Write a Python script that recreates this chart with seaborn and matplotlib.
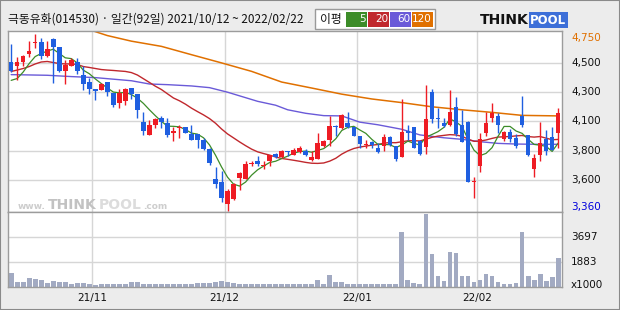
import numpy as np
import pandas as pd
import matplotlib
matplotlib.use("Agg")
import matplotlib.pyplot as plt
from matplotlib.patches import Rectangle
import seaborn as sns

# ---------------- data ----------------
title = "극동유화(014530) · 일간(92일) 2021/10/12 ~ 2022/02/22"
months = ["21/11", "21/12", "22/01", "22/02"]
month_start_idx = [14, 36, 58, 78]

opens = [4510, 4485, 4515, 4575, 4655, 4665, 4555, 4690, 4625, 4445, 4485, 4510, 4415, 4360, 4305,
         4300, 4360, 4275, 4195, 4210, 4310, 4265, 4050, 3955, 4025, 4085, 4040, 3970, 4005, 4010,
         3960, 3960, 3915, 3845, 3610, 3590, 3425, 3460, 3620, 3615, 3725, 3750, 3715, 3755, 3805,
         3780, 3825, 3800, 3820, 3825, 3760, 3770, 3865, 3915, 4020, 4005, 4040, 4010, 3940, 3875,
         3895, 3850, 3870, 3935, 3865, 3785, 3985, 4015, 3905, 3860, 4280, 4080, 4045, 4025, 4165,
         4025, 4050, 3590, 3715, 3965, 4080, 4100, 3920, 3975, 3930, 4100, 3950, 3690, 3800, 3920,
         3935, 3970]
highs = [4650, 4550, 4565, 4670, 4725, 4700, 4675, 4700, 4630, 4530, 4545, 4545, 4480, 4390, 4305,
         4350, 4360, 4275, 4305, 4310, 4315, 4265, 4130, 4070, 4085, 4095, 4085, 4010, 4030, 4015,
         4025, 3960, 3925, 3850, 3705, 3675, 3535, 3580, 3665, 3755, 3755, 3790, 3750, 3800, 3815,
         3835, 3830, 3850, 3865, 3840, 3825, 3965, 3910, 4095, 4030, 4110, 4125, 4015, 3940, 3915,
         3905, 3890, 3960, 3940, 3865, 4230, 4025, 4015, 3915, 4335, 4305, 4160, 4085, 4295, 4245,
         4145, 4055, 3630, 3965, 4130, 4195, 4120, 3980, 4000, 3960, 4250, 3950, 3805, 4050, 3990,
         4015, 4155]
lows = [4435, 4370, 4480, 4550, 4620, 4535, 4550, 4350, 4435, 4340, 4480, 4420, 4300, 4265, 4220,
        4295, 4250, 4165, 4155, 4185, 4230, 4085, 3955, 3950, 4005, 4005, 3935, 3905, 3930, 3965,
        3910, 3855, 3835, 3720, 3545, 3440, 3365, 3455, 3530, 3610, 3710, 3715, 3690, 3710, 3775,
        3775, 3790, 3795, 3815, 3790, 3755, 3765, 3860, 3870, 3940, 4000, 4005, 3940, 3855, 3855,
        3855, 3815, 3830, 3870, 3750, 3780, 3915, 3850, 3795, 3805, 4045, 4005, 4010, 4020, 3940,
        3900, 3590, 3465, 3665, 3945, 4050, 3965, 3905, 3895, 3850, 4010, 3790, 3625, 3750, 3795,
        3835, 3855]
closes = [4440, 4515, 4555, 4600, 4660, 4555, 4610, 4625, 4440, 4490, 4525, 4445, 4345, 4305, 4290,
          4345, 4280, 4185, 4275, 4305, 4265, 4140, 3985, 4030, 4075, 4050, 3955, 3980, 4010, 3970,
          3915, 3915, 3840, 3735, 3575, 3465, 3520, 3575, 3660, 3730, 3730, 3725, 3720, 3795, 3780,
          3830, 3820, 3835, 3855, 3800, 3785, 3890, 3905, 4020, 4010, 4105, 4010, 3945, 3880, 3880,
          3875, 3820, 3935, 3875, 3770, 3975, 3965, 3855, 3805, 4075, 4075, 4075, 4020, 4130, 3960,
          3900, 3590, 3595, 3920, 4045, 4120, 4025, 3975, 3920, 3870, 4030, 3800, 3775, 3890, 3825,
          3835, 4120]
volumes = [1060, 400, 400, 640, 570, 500, 330, 470, 400, 400, 250, 280, 320, 250, 120,
           200, 260, 260, 200, 260, 350, 400, 260, 230, 230, 200, 200, 250, 250, 250,
           260, 280, 300, 300, 400, 420, 400, 300, 260, 250, 240, 220, 200, 200, 200,
           200, 200, 210, 220, 250, 250, 520, 250, 890, 370, 390, 250, 200, 200, 200,
           200, 200, 200, 200, 200, 4090, 490, 320, 250, 5420, 2420, 840, 440, 2610, 2540,
           840, 840, 390, 540, 990, 840, 390, 250, 250, 320, 4090, 840, 540, 990, 440, 760, 2170]

# moving-average values before enough in-window history exists
ma5_head = [4371, 4385, 4435, 4500]
ma20_head = [4439, 4450, 4462, 4477, 4497, 4512, 4516, 4508, 4500, 4497, 4497, 4493, 4477,
             4470, 4462, 4454, 4450, 4447, 4443]
ma60_idx = [0, 6, 10, 14, 20, 23, 26, 30, 33, 36, 41, 44, 46, 49, 52, 55, 58, 61, 65, 68,
            72, 75, 78, 81, 84, 87, 91]
ma60_val = [4415, 4410, 4400, 4392, 4368, 4343, 4338, 4328, 4315, 4280, 4210, 4180, 4145, 4118,
            4100, 4098, 4050, 4030, 3995, 3952, 3930, 3918, 3900, 3887, 3882, 3880, 3880]
ma120_idx = [13, 16, 20, 25, 30, 35, 40, 45, 50, 55, 60, 65, 70, 75, 80, 85, 91]
ma120_val = [4760, 4715, 4672, 4632, 4568, 4505, 4440, 4358, 4312, 4265, 4228, 4200, 4168,
             4145, 4125, 4102, 4098]

price_max, price_min = 4750, 3360
price_grid = [3605, 3830, 4055, 4280, 4505]
price_grid_labels = ["3,600", "3,800", "4,100", "4,300", "4,500"]
vol_ticks = [3697, 1883]
vol_top = 5580

ma_names = ["5", "20", "60", "120"]
ma_colors = ["#3c8c28", "#c0282d", "#6a5ad8", "#e07000"]

# ---------------- build frame ----------------
df = pd.DataFrame({"i": np.arange(len(opens)), "open": opens, "high": highs,
                   "low": lows, "close": closes, "vol": volumes})
ma5 = df["close"].rolling(5).mean().to_numpy()
ma5[:len(ma5_head)] = ma5_head
ma20 = df["close"].rolling(20).mean().to_numpy()
ma20[:len(ma20_head)] = ma20_head

sns.set_style("white")
plt.rcParams["font.family"] = ["DejaVu Sans"]

W, H = 620, 310
fig = plt.figure(figsize=(W / 100, H / 100), dpi=100, facecolor="#ececec")


def fx(px):
    return px / W


def fy(py):
    return 1 - py / H


left_px, right_px = 7.5, 562
ax = fig.add_axes([fx(left_px), fy(212), fx(right_px - left_px), 181 / H])
axv = fig.add_axes([fx(left_px), fy(287), fx(right_px - left_px), 75 / H])

xlim = (-0.61, 91.64)
grid_c = "#d6d6d6"
for a in (ax, axv):
    a.set_facecolor("white")
    for s in a.spines.values():
        s.set_color("#9c9c9c")
        s.set_linewidth(1)
    a.set_xlim(*xlim)
    a.set_xticks([])
    a.set_yticks([])
    for m in month_start_idx:
        a.axvline(m - 0.5, color=grid_c, lw=1, zorder=0)

ax.set_ylim(price_min, price_max)
for g in price_grid:
    ax.axhline(g, color=grid_c, lw=1, zorder=0)
axv.set_ylim(0, vol_top)
for g in vol_ticks:
    axv.axhline(g, color=grid_c, lw=1, zorder=0)

# watermark
wm_c = "#cdcdcd"
fig.text(fx(18), fy(209), "www.", fontsize=6.5, color=wm_c, va="baseline", fontweight="bold")
fig.text(fx(48), fy(209), "THINK", fontsize=10, color="#c2c2c2", va="baseline", fontweight="bold")
fig.text(fx(98.5), fy(209), "POOL", fontsize=10, color="#dcdcdc", va="baseline", fontweight="bold")
fig.text(fx(143), fy(209), ".com", fontsize=6.5, color=wm_c, va="baseline", fontweight="bold")

# moving averages
sns.lineplot(x=ma120_idx, y=ma120_val, ax=ax, color=ma_colors[3], lw=1.1, zorder=2)
sns.lineplot(x=ma60_idx, y=ma60_val, ax=ax, color=ma_colors[2], lw=1.0, zorder=2)
sns.lineplot(x=df["i"], y=ma20, ax=ax, color=ma_colors[1], lw=1.0, zorder=2)
sns.lineplot(x=df["i"], y=ma5, ax=ax, color=ma_colors[0], lw=0.9, zorder=2)

# candles
up = df["close"] >= df["open"]
col = np.where(up, "#ee1c24", "#1f5fe0")
body_bot = np.minimum(df["open"], df["close"])
body_h = np.maximum(np.abs(df["close"] - df["open"]), 9)
ax.vlines(df["i"], df["low"], df["high"], colors=col, lw=1, zorder=3)
ax.bar(df["i"], body_h, bottom=body_bot, width=0.76, color=col, linewidth=0, zorder=4)
ax.set_xlim(*xlim)
ax.set_ylim(price_min, price_max)
ax.set_xlabel("")
ax.set_ylabel("")

# volume
sns.barplot(x=df["i"], y=df["vol"], ax=axv, native_scale=True, color="#a2aac2",
            saturation=1, errorbar=None, width=0.8, linewidth=0, zorder=2)
axv.set_xlim(*xlim)
axv.set_ylim(0, vol_top)
axv.set_xlabel("")
axv.set_ylabel("")
axv.set_xticks([])
axv.set_yticks([])

# right-hand labels
lab_x = fx(571)
fig.text(lab_x, fy(38), "4,750", fontsize=7.5, color="#e07000", va="center")
for g, lab in zip(price_grid, price_grid_labels):
    ypx = 212 - (g - price_min) / (price_max - price_min) * 181
    fig.text(lab_x, fy(ypx), lab, fontsize=7.5, color="#111111", va="center")
fig.text(lab_x, fy(207), "3,360", fontsize=7.5, color="#0000dd", va="center")
for v in vol_ticks:
    ypx = 287 - v / vol_top * 75
    fig.text(lab_x, fy(ypx), str(v), fontsize=7.5, color="#111111", va="center")
fig.text(lab_x, fy(285), "x1000", fontsize=7.5, color="#111111", va="center")

# month labels
for m, lab in zip(month_start_idx, months):
    xpx = left_px + (m - 0.5 - xlim[0]) / (xlim[1] - xlim[0]) * (right_px - left_px)
    fig.text(fx(xpx), fy(298), lab, fontsize=7.5, color="#111111", ha="center", va="center")

# title
fig.text(fx(8), fy(19), title, fontsize=8.5, color="#111111", va="center",
         family=["Noto Sans CJK KR", "DejaVu Sans"])

# legend box
fig.patches.append(Rectangle((fx(315), fy(29)), fx(120), 20 / H, transform=fig.transFigure,
                             facecolor="white", edgecolor="#9a9a9a", lw=1))
fig.text(fx(320), fy(19), "이평", fontsize=8.5, color="#111111", va="center",
         family=["Noto Sans CJK KR", "DejaVu Sans"])
box_x = [346, 368, 390, 412]
for bx, name, c in zip(box_x, ma_names, ma_colors):
    fig.patches.append(Rectangle((fx(bx), fy(26.5)), fx(21), 15 / H, transform=fig.transFigure,
                                 facecolor=c, edgecolor="none"))
    fig.text(fx(bx + 20), fy(19), name, fontsize=7.5, color="white", ha="right", va="center")

# logo
fig.text(fx(480), fy(20), "THINK", fontsize=10, fontweight="bold", color="#111111", va="center")
fig.text(fx(530), fy(20), "POOL", fontsize=8.5, fontweight="bold", color="white", va="center",
         bbox=dict(boxstyle="square,pad=0.12", facecolor="#3d6fd8", edgecolor="none"))

# outer frame
fig.patches.append(Rectangle((0, 0), 1, 1, transform=fig.transFigure, facecolor="none",
                             edgecolor="#8a8a8a", lw=1.5))

fig.savefig("out.png", dpi=100, facecolor=fig.get_facecolor())
